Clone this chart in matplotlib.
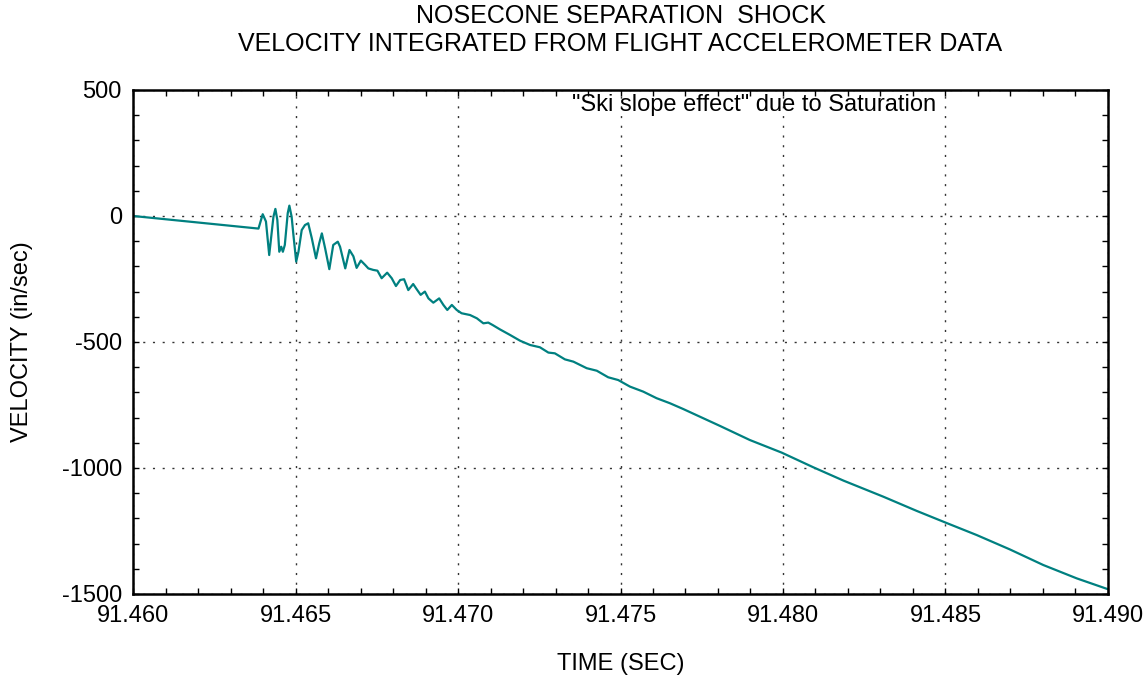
import numpy as np
import matplotlib
matplotlib.use("Agg")
import matplotlib.pyplot as plt
from matplotlib.ticker import MultipleLocator, FormatStrFormatter

plt.rcParams['font.family'] = ['Liberation Sans', 'DejaVu Sans']
plt.rcParams['axes.unicode_minus'] = False

# Velocity trace (time in sec, velocity in in/sec)
time_s = [
    91.46000, 91.46386, 91.46399, 91.46409, 91.46419, 91.46432, 91.46438,
    91.46444, 91.46450, 91.46456, 91.46461, 91.46467, 91.46476, 91.46481,
    91.46488, 91.46493, 91.46502, 91.46509, 91.46519, 91.46529, 91.46539,
    91.46550, 91.46563, 91.46573, 91.46581, 91.46591, 91.46604, 91.46616,
    91.46630, 91.46637, 91.46653, 91.46666, 91.46678, 91.46688, 91.46701,
    91.46714, 91.46724, 91.46739, 91.46752, 91.46765, 91.46782, 91.46796,
    91.46809, 91.46822, 91.46834, 91.46847, 91.46862, 91.46873, 91.46885,
    91.46898, 91.46909, 91.46924, 91.46942, 91.46955, 91.46967, 91.46981,
    91.46996, 91.47011, 91.47037, 91.47058, 91.47078, 91.47093, 91.47107,
    91.47129, 91.47160, 91.47191, 91.47222, 91.47252, 91.47278, 91.47298,
    91.47329, 91.47355, 91.47396, 91.47427, 91.47462, 91.47493, 91.47529,
    91.47570, 91.47611, 91.47652, 91.47693, 91.47806, 91.47898, 91.47996,
    91.48093, 91.48186, 91.48309, 91.48411, 91.48501, 91.48596, 91.48698,
    91.48801, 91.48904, 91.49000,
]
velocity = [
    0, -50, 7, -22, -155, -3, 28,
    -16, -142, -122, -142, -115, 11, 41,
    -3, -69, -181, -142, -56, -36, -29,
    -88, -168, -108, -69, -128, -211, -115,
    -102, -122, -208, -135, -160, -206, -177,
    -194, -208, -214, -217, -247, -225, -247,
    -278, -254, -251, -294, -270, -291, -313,
    -300, -327, -344, -327, -353, -373, -353,
    -373, -386, -393, -406, -426, -423, -433,
    -450, -472, -495, -512, -521, -542, -545,
    -569, -578, -604, -614, -640, -651, -677,
    -697, -723, -743, -766, -833, -889, -939,
    -997, -1050, -1114, -1170, -1217, -1266, -1323,
    -1385, -1438, -1481,
]

title = "NOSECONE SEPARATION  SHOCK\nVELOCITY INTEGRATED FROM FLIGHT ACCELEROMETER DATA"
note = '"Ski slope effect" due to Saturation'

fig = plt.figure(figsize=(11.46, 6.77), dpi=100)
ax = fig.add_axes([0.1161, 0.1226, 0.8507, 0.7445])

ax.plot(time_s, velocity, color='#008080', lw=1.6,
        solid_joinstyle='round', solid_capstyle='round')

ax.set_xlim(91.460, 91.490)
ax.set_ylim(-1500, 500)
ax.xaxis.set_major_locator(MultipleLocator(0.005))
ax.xaxis.set_minor_locator(MultipleLocator(0.001))
ax.xaxis.set_major_formatter(FormatStrFormatter('%.3f'))
ax.yaxis.set_major_locator(MultipleLocator(500))
ax.yaxis.set_minor_locator(MultipleLocator(100))

ax.tick_params(which='both', direction='in', top=True, right=True,
               width=1.0, color='black')
ax.tick_params(which='major', length=4, labelsize=17, pad=8)
ax.tick_params(which='minor', length=4)

ax.grid(True, which='major', color='#333333', lw=1.0, linestyle=(0, (1.5, 5.5)))

for s in ax.spines.values():
    s.set_linewidth(1.8)

ax.set_title(title, fontsize=18, pad=28, linespacing=1.22)
ax.set_xlabel("TIME (SEC)", fontsize=17, labelpad=19)
ax.set_ylabel("VELOCITY (in/sec)", fontsize=17, labelpad=21)

ax.text(91.4735, 440, note, fontsize=17, ha='left', va='center')

fig.savefig("out.png", dpi=100)
